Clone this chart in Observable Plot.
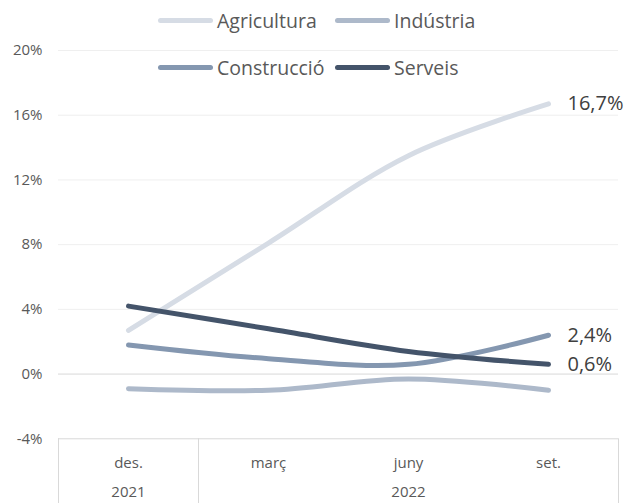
<!DOCTYPE html>
<html>
<head>
<meta charset="utf-8">
<script src="https://cdn.jsdelivr.net/npm/d3@7"></script>
<script src="https://cdn.jsdelivr.net/npm/@observablehq/plot@0.6"></script>
<style>
  body { margin: 0; background: #fff; }
  #wrap { position: relative; width: 625px; height: 503px; font-family: "Open Sans", sans-serif; }
  #legend { position: absolute; left: 0; top: 0; width: 625px; height: 90px; pointer-events: none; }
  .item { position: absolute; display: flex; align-items: center; font-size: 19.5px; color: #595959; }
  .sw { width: 55px; height: 5px; border-radius: 3px; margin-right: 4px; }
</style>
</head>
<body>
<div id="wrap"><div id="legend"></div></div>
<script>
const months = ["des.", "març", "juny", "set."];
const years = [{label: "2021", pos: 0}, {label: "2022", pos: 2}];
const seriesNames = ["Agricultura", "Indústria", "Construcció", "Serveis"];
const colors = ["#d6dce5", "#adb9ca", "#8497b0", "#44546a"];
const agricultura = [2.7, 8.1, 13.5, 16.7];
const industria = [-0.9, -1.0, -0.3, -1.0];
const construccio = [1.8, 0.95, 0.6, 2.4];
const serveis = [4.2, 2.8, 1.4, 0.6];
const yTicks = [-4, 0, 4, 8, 12, 16, 20];
const endLabels = [
  {name: "Agricultura", text: "16,7%"},
  {name: "Construcció", text: "2,4%"},
  {name: "Serveis", text: "0,6%"}
];

const valueArrays = [agricultura, industria, construccio, serveis];
const data = seriesNames.flatMap((name, s) =>
  valueArrays[s].map((v, i) => ({name, i, v})));
const last = (name) => data.filter(d => d.name === name && d.i === months.length - 1)[0];
const labelData = endLabels.map(l => ({...last(l.name), text: l.text}));

const chart = Plot.plot({
  width: 625,
  height: 503,
  marginLeft: 58, marginRight: 7, marginTop: 50, marginBottom: 0,
  style: {fontFamily: "Open Sans, sans-serif", background: "#fff"},
  x: {type: "linear", domain: [-0.5, 3.5], range: [58, 618], axis: null},
  y: {domain: [-8, 20], range: [503, 50], axis: null},
  color: {domain: seriesNames, range: colors},
  marks: [
    Plot.ruleY([4, 8, 12, 16, 20], {x1: -0.5, x2: 3.5, stroke: "#efefef", strokeWidth: 1}),
    Plot.ruleY([0, -4], {x1: -0.5, x2: 3.5, stroke: "#d9d9d9", strokeWidth: 1}),
    Plot.ruleX([-0.5, 0.5, 3.5], {y1: -4, y2: -8, stroke: "#d9d9d9", strokeWidth: 1}),
    Plot.text(yTicks, {x: -0.5, y: d => d, text: d => d + "%", textAnchor: "end", dx: -16, fill: "#595959", fontSize: 15}),
    Plot.text(months, {x: (d, i) => i, y: -5.5, text: d => d, fill: "#595959", fontSize: 15}),
    Plot.text(years, {x: "pos", y: -7.3, text: "label", fill: "#595959", fontSize: 15}),
    Plot.line(data, {x: "i", y: "v", z: "name", stroke: "name", strokeWidth: 5, curve: "catmull-rom", strokeLinecap: "round"}),
    Plot.text(labelData, {x: "i", y: "v", text: "text", textAnchor: "start", dx: 19, dy: 0, fill: "#404040", fontSize: 20})
  ]
});
const wrap = document.getElementById("wrap");
wrap.insertBefore(chart, wrap.firstChild);

const legend = document.getElementById("legend");
const pos = [[158, 20], [335, 20], [158, 67], [335, 67]];
seriesNames.forEach((n, k) => {
  const it = document.createElement("div");
  it.className = "item";
  it.style.left = pos[k][0] + "px";
  it.style.top = (pos[k][1] - 14) + "px";
  it.style.height = "28px";
  const sw = document.createElement("div");
  sw.className = "sw";
  sw.style.background = colors[k];
  const t = document.createElement("span");
  t.textContent = n;
  it.appendChild(sw); it.appendChild(t);
  legend.appendChild(it);
});
</script>
</body>
</html>
